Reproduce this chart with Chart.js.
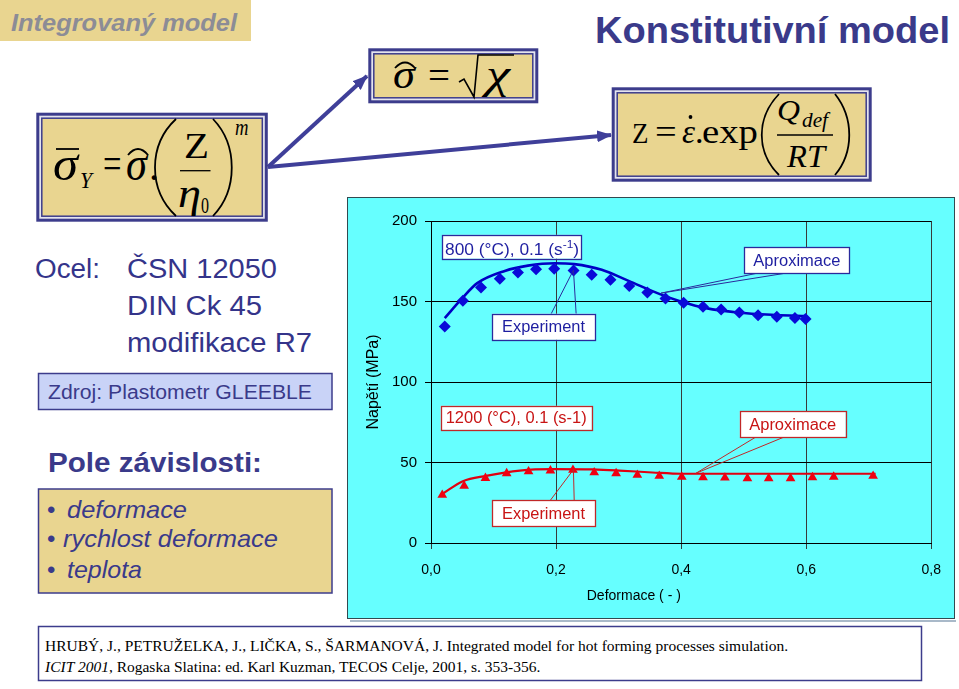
<!DOCTYPE html>
<html><head><meta charset="utf-8">
<script src="https://cdn.jsdelivr.net/npm/chart.js@4"></script>
<style>
html,body{margin:0;padding:0;background:#fff;width:959px;height:689px;overflow:hidden;}
#slide{position:absolute;left:0;top:0;}
#panel{position:absolute;left:347px;top:197px;width:608px;height:422px;box-sizing:border-box;border:1px solid #324a50;background:#66FFFF;}
#chart{position:absolute;left:0;top:0;}
#shadow{position:absolute;left:350px;top:620px;width:606px;height:2px;background:#a9b9c9;}
</style></head><body>
<svg id="slide" width="959" height="689" xmlns="http://www.w3.org/2000/svg">
 <defs>
  <marker id="ah" markerWidth="15" markerHeight="12" refX="14" refY="6" orient="auto" markerUnits="userSpaceOnUse"><path d="M0,0 L15,6 L0,12 z" fill="#3F3F99"/></marker>
 </defs>
 <!-- header tag -->
 <rect x="0" y="0" width="251" height="41" fill="#E9D590"/>
 <text x="11" y="31" font-family="Liberation Sans, Arial, sans-serif" font-size="24" font-weight="bold" font-style="italic" fill="#8C8C96" textLength="226" lengthAdjust="spacingAndGlyphs">Integrovaný model</text>
 <text x="595" y="43" font-family="Liberation Sans, Arial, sans-serif" font-size="37" font-weight="bold" fill="#3A3A8A" textLength="355" lengthAdjust="spacingAndGlyphs">Konstitutivní model</text>

 <!-- arrows -->
 <line x1="268" y1="167" x2="367" y2="76" stroke="#3F3F99" stroke-width="4" marker-end="url(#ah)"/>
 <line x1="268" y1="167" x2="611" y2="135" stroke="#3F3F99" stroke-width="4" marker-end="url(#ah)"/>

 <!-- sigma hat box -->
 <rect x="369.8" y="49.8" width="167" height="52" fill="#E4E4EE" stroke="#3C3C8C" stroke-width="3"/>
 <rect x="373.8" y="53.8" width="159" height="44" fill="#E9D590" stroke="#3C3C8C" stroke-width="1.5"/>
 <g font-family="Liberation Serif, Times New Roman, serif" fill="#000">
  <text x="393" y="88" font-size="40" font-style="italic" textLength="22" lengthAdjust="spacingAndGlyphs">σ</text>
  <path d="M395,68 Q405,57 415,68" fill="none" stroke="#000" stroke-width="1.8"/>
  <text x="428" y="89" font-size="40" textLength="22" lengthAdjust="spacingAndGlyphs">=</text>
  <path d="M459,82 L464,79 L474,97 L478,55 L514,55" fill="none" stroke="#000" stroke-width="1.6"/>
  <text x="486" y="88" font-size="40" font-style="italic" textLength="24" lengthAdjust="spacingAndGlyphs">χ</text>
 </g>

 <!-- sigma Y box -->
 <rect x="37.8" y="114.2" width="228.5" height="106" fill="#E4E4EE" stroke="#3C3C8C" stroke-width="3"/>
 <rect x="41.8" y="118.2" width="220.5" height="98" fill="#E9D590" stroke="#3C3C8C" stroke-width="1.5"/>
 <g font-family="Liberation Serif, Times New Roman, serif" fill="#000">
  <text x="53" y="180" font-size="48" font-style="italic" textLength="25" lengthAdjust="spacingAndGlyphs">σ</text>
  <line x1="56" y1="149" x2="79" y2="149" stroke="#000" stroke-width="1.8"/>
  <text x="80" y="188" font-size="24" font-style="italic" textLength="12" lengthAdjust="spacingAndGlyphs">Y</text>
  <text x="103" y="178" font-size="44" textLength="18.5" lengthAdjust="spacingAndGlyphs">=</text>
  <text x="126" y="180" font-size="48" font-style="italic" textLength="21" lengthAdjust="spacingAndGlyphs">σ</text>
  <path d="M128,155 Q138,143 148,155" fill="none" stroke="#000" stroke-width="1.8"/>
  <text x="149" y="180" font-size="40">.</text>
  <path d="M176,119 C148,145 148,190 176,216" fill="none" stroke="#000" stroke-width="1.8"/>
  <text x="184" y="158" font-size="36" textLength="25" lengthAdjust="spacingAndGlyphs">Z</text>
  <line x1="180" y1="170.7" x2="210.5" y2="170.7" stroke="#000" stroke-width="1.3"/>
  <text x="178" y="207" font-size="42" font-style="italic" textLength="23" lengthAdjust="spacingAndGlyphs">η</text>
  <text x="201" y="213" font-size="24" textLength="8" lengthAdjust="spacingAndGlyphs">0</text>
  <path d="M213,119 C238,145 238,190 213,216" fill="none" stroke="#000" stroke-width="1.8"/>
  <text x="235" y="135" font-size="24" font-style="italic" textLength="13.5" lengthAdjust="spacingAndGlyphs">m</text>
 </g>

 <!-- Z box -->
 <rect x="613.2" y="88.8" width="257" height="91.4" fill="#E4E4EE" stroke="#3C3C8C" stroke-width="3"/>
 <rect x="617.2" y="92.8" width="249" height="83.4" fill="#E9D590" stroke="#3C3C8C" stroke-width="1.5"/>
 <g font-family="Liberation Serif, Times New Roman, serif" fill="#000">
  <text x="632" y="143" font-size="30" textLength="16.5" lengthAdjust="spacingAndGlyphs">Z</text>
  <text x="655" y="143" font-size="34" textLength="21.7" lengthAdjust="spacingAndGlyphs">=</text>
  <text x="682" y="143" font-size="34" font-style="italic" textLength="13" lengthAdjust="spacingAndGlyphs">ε</text>
  <circle cx="690.5" cy="117" r="1.9" fill="#000"/>
  <text x="695" y="143" font-size="34">.</text>
  <text x="702" y="143" font-size="34" textLength="56" lengthAdjust="spacingAndGlyphs">exp</text>
  <path d="M779,94 C756,118 756,152 779,175" fill="none" stroke="#000" stroke-width="1.8"/>
  <text x="777" y="120" font-size="30" font-style="italic" textLength="23" lengthAdjust="spacingAndGlyphs">Q</text>
  <text x="802" y="127" font-size="20" font-style="italic" textLength="26" lengthAdjust="spacingAndGlyphs">def</text>
  <line x1="777" y1="135" x2="833" y2="135" stroke="#000" stroke-width="1.3"/>
  <text x="787" y="167" font-size="32" font-style="italic" textLength="38" lengthAdjust="spacingAndGlyphs">RT</text>
  <path d="M835,94 C854,118 854,152 835,175" fill="none" stroke="#000" stroke-width="1.8"/>
 </g>

 <!-- left texts -->
 <g font-family="Liberation Sans, Arial, sans-serif" fill="#34348A">
  <text x="35" y="278" font-size="27" textLength="65" lengthAdjust="spacingAndGlyphs">Ocel:</text>
  <text x="127" y="278" font-size="27" textLength="150" lengthAdjust="spacingAndGlyphs">ČSN 12050</text>
  <text x="127" y="315" font-size="27" textLength="135" lengthAdjust="spacingAndGlyphs">DIN Ck 45</text>
  <text x="127" y="352" font-size="27" textLength="185" lengthAdjust="spacingAndGlyphs">modifikace R7</text>
 </g>
 <rect x="38.5" y="373.5" width="293.5" height="36" fill="#C9D3F7" stroke="#3C3C8C" stroke-width="1.5"/>
 <text x="48" y="399" font-family="Liberation Sans, Arial, sans-serif" font-size="20" fill="#3A3A8A" textLength="264" lengthAdjust="spacingAndGlyphs">Zdroj: Plastometr GLEEBLE</text>
 <text x="48" y="472" font-family="Liberation Sans, Arial, sans-serif" font-size="27" font-weight="bold" fill="#3A3A8A" textLength="214" lengthAdjust="spacingAndGlyphs">Pole závislosti:</text>
 <rect x="38.5" y="489" width="293.5" height="104" fill="#E9D590" stroke="#3C3C8C" stroke-width="1.5"/>
 <g font-family="Liberation Sans, Arial, sans-serif" font-size="24" fill="#3A3A8A">
  <text x="47" y="518">•</text>
  <text x="67" y="518" font-style="italic" textLength="120" lengthAdjust="spacingAndGlyphs">deformace</text>
  <text x="47" y="547">•</text>
  <text x="63" y="547" font-style="italic" textLength="215" lengthAdjust="spacingAndGlyphs">rychlost deformace</text>
  <text x="47" y="578">•</text>
  <text x="67" y="578" font-style="italic" textLength="75" lengthAdjust="spacingAndGlyphs">teplota</text>
 </g>

 <!-- reference -->
 <rect x="38.5" y="626.5" width="883" height="54" fill="#fff" stroke="#3C3C8C" stroke-width="1.5"/>
 <g font-family="Liberation Serif, Times New Roman, serif" font-size="15.5" fill="#000">
  <text x="45" y="651">HRUBÝ, J., PETRUŽELKA, J., LIČKA, S., ŠARMANOVÁ, J. Integrated model for hot forming processes simulation.</text>
  <text x="45" y="672"><tspan font-style="italic">ICIT 2001</tspan>, Rogaska Slatina: ed. Karl Kuzman, TECOS Celje, 2001, s. 353-356.</text>
 </g>
</svg>
<div id="shadow"></div>
<div id="panel"><canvas id="chart" width="606" height="420"></canvas></div>
<script>
// ---- data ----
const xTickValues = [0, 0.2, 0.4, 0.6, 0.8];
const xTickLabels = ['0,0', '0,2', '0,4', '0,6', '0,8'];
const yTickValues = [0, 50, 100, 150, 200];
const yTickLabels = ['0', '50', '100', '150', '200'];

// 800 °C, 0.1 s-1 : experiment (diamonds)
const exp800X = [0.022, 0.051, 0.080, 0.110, 0.139, 0.168, 0.197, 0.228, 0.257, 0.287, 0.317, 0.346, 0.375, 0.404, 0.435, 0.464, 0.493, 0.523, 0.553, 0.582, 0.599];
const exp800Y = [134.5, 150.4, 158.7, 164.1, 168.0, 170.1, 170.3, 169.3, 166.6, 163.5, 159.6, 155.6, 151.9, 149.2, 146.7, 145.0, 143.2, 141.5, 140.5, 139.7, 139.1];
// 800 °C approximation (line)
const fit800X = [0.022, 0.050, 0.074, 0.118, 0.155, 0.198, 0.229, 0.273, 0.316, 0.366, 0.403, 0.440, 0.490, 0.552, 0.600];
const fit800Y = [139.7, 152.1, 161.4, 169.0, 172.3, 173.8, 173.2, 169.7, 162.8, 154.6, 149.6, 145.9, 143.2, 141.6, 140.9];

// 1200 °C, 0.1 s-1 : experiment (triangles)
const exp1200X = [0.018, 0.053, 0.087, 0.121, 0.156, 0.191, 0.227, 0.261, 0.296, 0.330, 0.365, 0.401, 0.435, 0.470, 0.506, 0.540, 0.575, 0.610, 0.644, 0.707];
const exp1200Y = [29.8, 35.5, 40.3, 43.2, 44.4, 44.9, 45.3, 43.8, 43.2, 42.2, 41.6, 41.1, 40.7, 40.5, 40.1, 40.1, 40.1, 40.7, 41.1, 41.6];
// 1200 °C approximation (line)
const fit1200X = [0.018, 0.051, 0.088, 0.142, 0.195, 0.259, 0.301, 0.354, 0.401, 0.550, 0.711];
const fit1200Y = [30.4, 38.4, 41.7, 45.0, 45.9, 45.7, 45.0, 43.8, 43.0, 43.0, 43.0];

// callout labels (box corners and pointer positions in axis units)
const annotations = [
  {parts: [['800 (°C), 0.1 (s'], ['-1', true], [')']], color: '#1E1EA0', stroke: '#2A2A9C', box: [0.0182, 191.4, 0.2412, 176.6], textW: 134, dy: 2.5},
  {parts: [['Experiment']], color: '#1E1EA0', stroke: '#2A2A9C', box: [0.0974, 142.4, 0.2624, 126.2], textW: 83, dy: 0,
   wedge: [[0.1922, 142.4], [0.2321, 142.4], [0.2278, 169.5]]},
  {parts: [['Aproximace']], color: '#1E1EA0', stroke: '#2A2A9C', box: [0.5007, 183.8, 0.6694, 167.6], textW: 87, dy: 0,
   wedge: [[0.522, 167.6], [0.5673, 167.6], [0.3678, 155.2]]},
  {parts: [['1200 (°C), 0.1 (s-1)']], color: '#C81414', stroke: '#C02828', box: [0.0155, 85.2, 0.257, 70.3], textW: 141, dy: 0},
  {parts: [['Aproximace']], color: '#C81414', stroke: '#C02828', box: [0.4939, 81.7, 0.663, 65.8], textW: 87, dy: 0,
   wedge: [[0.5194, 65.8], [0.5646, 65.8], [0.4236, 43.3]]},
  {parts: [['Experiment']], color: '#C81414', stroke: '#C02828', box: [0.0974, 26.4, 0.2624, 10.1], textW: 83, dy: 0,
   wedge: [[0.1906, 26.4], [0.2290, 26.4], [0.2278, 45.6]]}
];
const xTitleText = 'Deformace ( - )';
const xTitleAt = 0.3243;

const FONT = 'Liberation Sans, Arial, sans-serif';
const pts = (xs, ys) => xs.map((x, i) => ({x: x, y: ys[i]}));

const annPlugin = {
  id: 'ann',
  afterDatasetsDraw(chart) {
    const ctx = chart.ctx, xs = chart.scales.x, ys = chart.scales.y;
    const px = v => xs.getPixelForValue(v), py = v => ys.getPixelForValue(v);
    annotations.forEach(a => {
      ctx.save();
      ctx.strokeStyle = a.stroke;
      if (a.wedge) {
        ctx.lineWidth = 1;
        ctx.beginPath();
        ctx.moveTo(px(a.wedge[0][0]), py(a.wedge[0][1]));
        ctx.lineTo(px(a.wedge[2][0]), py(a.wedge[2][1]));
        ctx.lineTo(px(a.wedge[1][0]), py(a.wedge[1][1]));
        ctx.stroke();
      }
      const L = px(a.box[0]), T = py(a.box[1]), R = px(a.box[2]), B = py(a.box[3]);
      ctx.fillStyle = '#fff';
      ctx.fillRect(L, T, R - L, B - T);
      ctx.lineWidth = 1.3;
      ctx.strokeRect(Math.round(L) + 0.5, Math.round(T) + 0.5, Math.round(R - L), Math.round(B - T));
      // text
      let w = 0;
      a.parts.forEach(p => { ctx.font = (p[1] ? 11 : 16) + 'px ' + FONT; w += ctx.measureText(p[0]).width; });
      const sx = a.textW / w;
      const cx = (L + R) / 2, cy = (T + B) / 2 + 5.6 + a.dy;
      ctx.translate(cx - a.textW / 2, cy);
      ctx.scale(sx, 1);
      ctx.fillStyle = a.color;
      ctx.textBaseline = 'alphabetic';
      ctx.textAlign = 'left';
      let x = 0;
      a.parts.forEach(p => {
        ctx.font = (p[1] ? 11 : 16) + 'px ' + FONT;
        ctx.fillText(p[0], x, p[1] ? -7 : 0);
        x += ctx.measureText(p[0]).width;
      });
      ctx.restore();
    });
  },
  afterDraw(chart) {
    const ctx = chart.ctx, xs = chart.scales.x;
    ctx.save();
    ctx.font = '14px ' + FONT;
    ctx.fillStyle = '#000';
    ctx.textAlign = 'center';
    ctx.textBaseline = 'middle';
    ctx.fillText(xTitleText, xs.getPixelForValue(xTitleAt), chart.chartArea.bottom + 53.5);
    ctx.restore();
  }
};

new Chart(document.getElementById('chart'), {
  type: 'scatter',
  data: {
    datasets: [
      {label: '800 experiment', data: pts(exp800X, exp800Y), showLine: false, pointStyle: 'rectRot', pointRadius: 6, pointBackgroundColor: '#0A0AD8', pointBorderWidth: 0, order: 0},
      {label: '800 aproximace', data: pts(fit800X, fit800Y), showLine: true, borderColor: '#0000C4', borderWidth: 2.6, pointRadius: 0, cubicInterpolationMode: 'monotone', order: 1},
      {label: '1200 experiment', data: pts(exp1200X, exp1200Y), showLine: false, pointStyle: 'triangle', pointRadius: 5.6, pointBackgroundColor: '#F00010', pointBorderWidth: 0, order: 0},
      {label: '1200 aproximace', data: pts(fit1200X, fit1200Y), showLine: true, borderColor: '#E00010', borderWidth: 2.2, pointRadius: 0, cubicInterpolationMode: 'monotone', order: 1}
    ]
  },
  options: {
    responsive: false,
    animation: false,
    devicePixelRatio: 1,
    layout: {padding: {left: 0, right: 21, top: 23, bottom: 0}},
    plugins: {legend: {display: false}, tooltip: {enabled: false}},
    scales: {
      x: {
        type: 'linear', min: 0, max: 0.8,
        afterFit(s) { s.height = 75; },
        afterBuildTicks(s) { s.ticks = xTickValues.map(v => ({value: v})); },
        ticks: {callback: (v, i) => xTickLabels[i], font: {family: FONT, size: 14}, color: '#000', padding: 13, maxRotation: 0, autoSkip: false},
        grid: {color: '#3a3a3a', lineWidth: 1, tickLength: 6, drawTicks: true},
        border: {color: '#000', width: 1}
      },
      y: {
        type: 'linear', min: 0, max: 200,
        afterFit(s) { s.width = 83; },
        afterBuildTicks(s) { s.ticks = yTickValues.map(v => ({value: v})); },
        ticks: {callback: (v, i) => yTickLabels[i], font: {family: FONT, size: 15}, color: '#000', padding: 8},
        grid: {color: '#000', lineWidth: 1, tickLength: 6, drawTicks: true},
        border: {color: '#000', width: 1},
        title: {display: true, text: 'Napětí (MPa)', font: {family: FONT, size: 16}, color: '#000', padding: {top: 15.7, bottom: 0}}
      }
    }
  },
  plugins: [annPlugin]
});
</script>
</body></html>
